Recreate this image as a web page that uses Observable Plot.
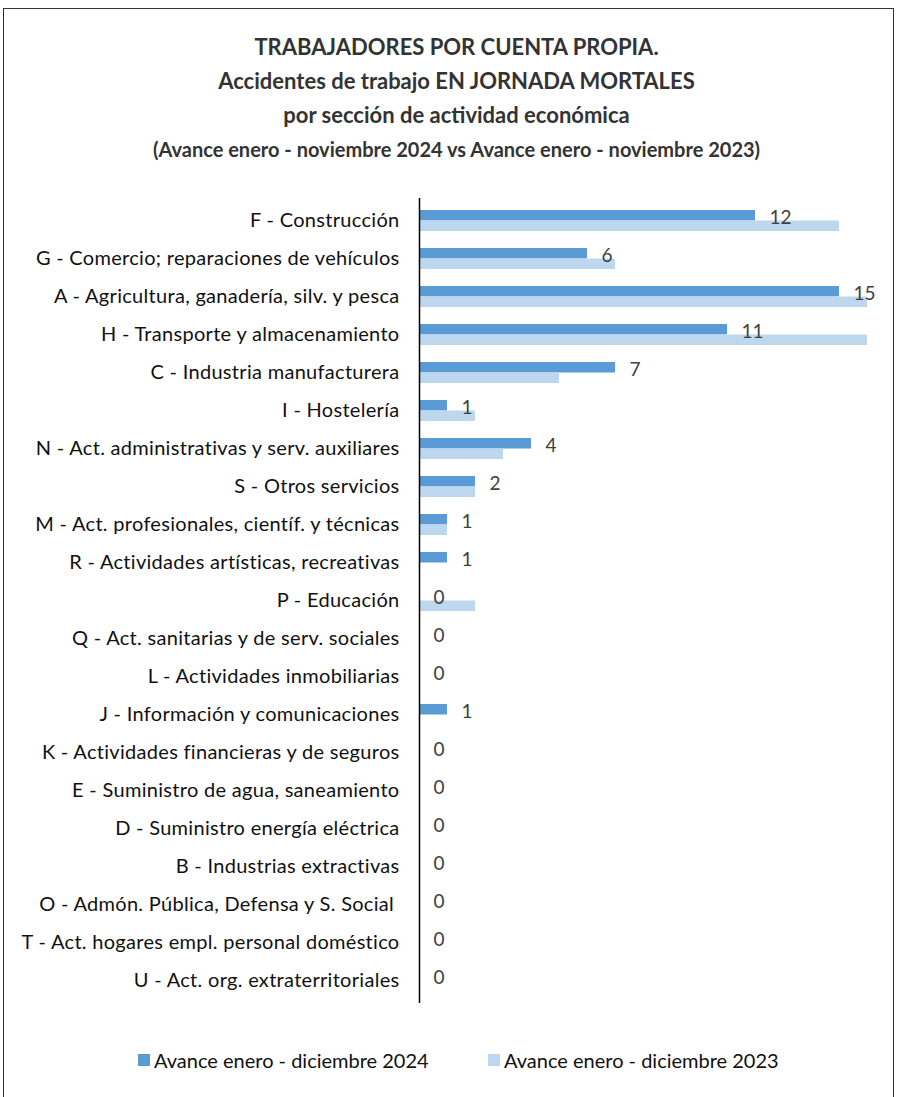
<!DOCTYPE html>
<html>
<head>
<meta charset="utf-8">
<script src="https://cdn.jsdelivr.net/npm/d3@7"></script>
<script src="https://cdn.jsdelivr.net/npm/@observablehq/plot@0.6"></script>
<style>
  html, body { margin: 0; padding: 0; background: #fff; }
  body { width: 897px; height: 1097px; position: relative; overflow: hidden; font-family: Lato, "Open Sans", sans-serif; }
  #frame { position: absolute; left: 3px; top: 8px; width: 891px; height: 1100px; border: 1.5px solid #333; box-sizing: border-box; }
  #title { position: absolute; left: 16px; top: 30px; width: 881px; text-align: center; color: #333; font-weight: bold; }
  #title .t { font-size: 22px; line-height: 34px; }
  #title .s { font-size: 20px; line-height: 34px; }
  #chart { position: absolute; left: 0; top: 180px; }
  #legend { position: absolute; top: 1047px; left: 0; width: 897px; height: 26px; font-size: 20px; color: #111; }
  .li { position: absolute; top: 0; display: flex; align-items: center; height: 26px; }
  .sw { width: 12px; height: 12px; margin-right: 4px; }
</style>
</head>
<body>
<div id="frame"></div>
<div id="title">
  <div class="t">TRABAJADORES POR CUENTA PROPIA.</div>
  <div class="t">Accidentes de trabajo EN JORNADA MORTALES</div>
  <div class="t">por sección de actividad económica</div>
  <div class="s">(Avance enero - noviembre 2024 vs Avance enero - noviembre 2023)</div>
</div>
<div id="chart"></div>
<div id="legend"></div>
<script>
const categories = [
  "F - Construcción",
  "G - Comercio; reparaciones de vehículos",
  "A - Agricultura, ganadería, silv. y pesca",
  "H - Transporte y almacenamiento",
  "C - Industria manufacturera",
  "I - Hostelería",
  "N - Act. administrativas y serv. auxiliares",
  "S - Otros servicios",
  "M - Act. profesionales, científ. y técnicas",
  "R - Actividades artísticas, recreativas",
  "P - Educación",
  "Q - Act. sanitarias y de serv. sociales",
  "L - Actividades inmobiliarias",
  "J - Información y comunicaciones",
  "K - Actividades financieras y de seguros",
  "E - Suministro de agua, saneamiento",
  "D - Suministro energía eléctrica",
  "B - Industrias extractivas",
  "O - Admón. Pública, Defensa y S. Social ",
  "T - Act. hogares empl. personal doméstico",
  "U - Act. org. extraterritoriales"
];
const values2024 = [12, 6, 15, 11, 7, 1, 4, 2, 1, 1, 0, 0, 0, 1, 0, 0, 0, 0, 0, 0, 0];
const values2023 = [15, 7, 16, 16, 5, 2, 3, 2, 1, 0, 2, 0, 0, 0, 0, 0, 0, 0, 0, 0, 0];
const seriesNames = ["Avance enero - diciembre 2024", "Avance enero - diciembre 2023"];
const seriesColors = ["#5b9bd5", "#bdd7ee"];

const rows = categories.map((c, i) => ({cat: c, v2024: values2024[i], v2023: values2023[i]}));

const half = 10.5;
const chart = Plot.plot({
  width: 897,
  height: 828,
  marginLeft: 419,
  marginRight: 30,
  marginTop: 18,
  marginBottom: 5,
  style: {fontFamily: "Lato, 'Open Sans', sans-serif", fontSize: "20px", color: "#111", background: "transparent"},
  x: {domain: [0, 16], axis: null},
  y: {domain: categories, paddingInner: 0.45, paddingOuter: 0.225, label: null},
  marks: [
    Plot.barX(rows, {x: "v2024", y: "cat", fill: seriesColors[0], insetBottom: half}),
    Plot.barX(rows, {x: "v2023", y: "cat", fill: seriesColors[1], insetTop: half}),
    Plot.ruleX([0], {stroke: "#000", strokeWidth: 1.5}),
    Plot.text(rows, {x: "v2024", y: "cat", text: d => String(d.v2024), textAnchor: "start", dx: 14, dy: -3, fill: "#404040", fontSize: 19}),
    Plot.axisY({tickSize: 0, tickPadding: 20, label: null, fill: "#111", fontSize: 20, style: "letter-spacing:0.3px"})
  ]
});
chart.querySelectorAll("g[aria-label='y-axis tick label'] text").forEach(t => t.setAttribute("letter-spacing", "0.3"));
document.getElementById("chart").appendChild(chart);

const legend = document.getElementById("legend");
const lx = [138, 488];
seriesNames.forEach((n, i) => {
  const d = document.createElement("div");
  d.className = "li";
  d.style.left = lx[i] + "px";
  d.innerHTML = `<span class="sw" style="background:${seriesColors[i]}"></span><span>${n}</span>`;
  legend.appendChild(d);
});
</script>
</body>
</html>
